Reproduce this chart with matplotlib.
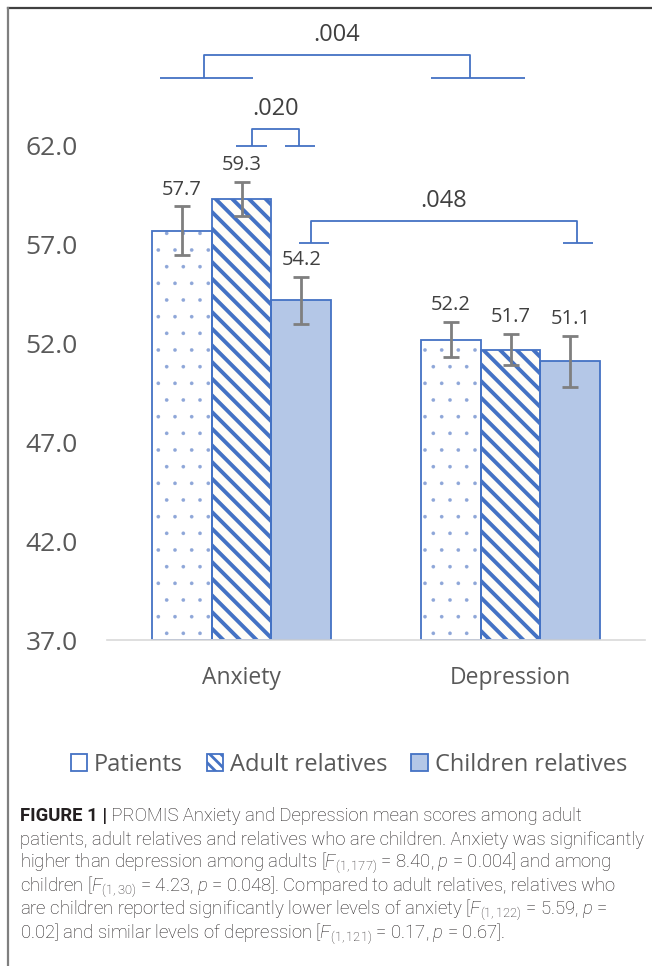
import matplotlib
matplotlib.use("Agg")
import matplotlib.pyplot as plt
from matplotlib.patches import Patch
from matplotlib.lines import Line2D
import numpy as np

# --- data -------------------------------------------------------------
categories = ["Anxiety", "Depression"]
groups = ["Patients", "Adult relatives", "Children relatives"]
patients = [57.7, 52.2]
adult_relatives = [59.3, 51.7]
children_relatives = [54.2, 51.1]
patients_err = [1.24, 0.90]
adult_err = [0.86, 0.78]
children_err = [1.19, 1.28]
yticks = [37.0, 42.0, 47.0, 52.0, 57.0, 62.0]
# significance brackets: (label, left foot, right foot, left stem, right stem, base, top)
brackets = [
    (".004", (-0.303, 0.043), (0.704, 1.054), -0.139, 0.849, 65.44, 66.6),
    (".020", (-0.020, 0.095), (0.162, 0.273), 0.039, 0.214, 62.0, 62.86),
    (".048", (0.214, 0.325), (1.195, 1.307), 0.258, 1.247, 57.09, 58.2),
]

BLUE = "#4472C4"
DOT = "#8EA6D8"
LIGHT = "#B4C7E7"
GREY_TXT = "#595959"
VAL_TXT = "#404040"

plt.rcParams["font.family"] = ["Open Sans", "DejaVu Sans"]

fig = plt.figure(figsize=(6.52, 9.66), dpi=100)
ax = fig.add_axes([107 / 652, 1 - 640 / 966, (645 - 107) / 652, (640 - 146) / 966])

x = np.arange(len(categories))
w = 0.223
# (values, errors, face colour, hatch, hatch colour, hatch line width)
series = [
    (patients, patients_err, "white", ".", DOT, 0.2),
    (adult_relatives, adult_err, "#FFFDF8", "\\\\", BLUE, 2.8),
    (children_relatives, children_err, LIGHT, None, BLUE, 1.0),
]

for i, (vals, errs, face, hatch, hcol, hlw) in enumerate(series):
    pos = x + (i - 1) * w
    heights = np.array(vals) - 37.0
    ax.bar(pos, heights, bottom=37.0, width=w, facecolor=face, edgecolor="none",
           linewidth=0, zorder=2)
    if hatch:
        plt.rcParams["hatch.linewidth"] = hlw
        ax.bar(pos, heights, bottom=37.0, width=w, facecolor="none", edgecolor=hcol,
               linewidth=0, hatch=hatch, zorder=2.1)
    ax.bar(pos, heights, bottom=37.0, width=w, facecolor="none", edgecolor=BLUE,
           linewidth=1.3, zorder=2.2)
    ax.errorbar(pos, vals, yerr=errs, fmt="none", ecolor="#7F7F7F",
                elinewidth=2.0, capsize=5.8, capthick=2.0, zorder=3)
    for p, v, e in zip(pos, vals, errs):
        ax.annotate(f"{v:.1f}", (p, v + e), xytext=(0, 5), textcoords="offset points",
                    ha="center", va="bottom", fontsize=14.5, color=VAL_TXT)

ax.set_xlim(-0.5, 1.5)
ax.set_ylim(37, 62)
ax.set_yticks(yticks)
ax.set_yticklabels([f"{t:.1f}" for t in yticks], fontsize=19, color=GREY_TXT)
ax.set_xticks(x)
ax.set_xticklabels(categories, fontsize=16.5, color=GREY_TXT)
ax.tick_params(axis="y", length=0, pad=21)
ax.tick_params(axis="x", length=0, pad=18.5)
for s in ["top", "right", "left"]:
    ax.spines[s].set_visible(False)
ax.spines["bottom"].set_color("#D9D9D9")
ax.spines["bottom"].set_linewidth(1.2)

# significance brackets
for label, (l0, l1), (r0, r1), sl, sr, base, top in brackets:
    kw = dict(color=BLUE, lw=1.3, clip_on=False, solid_capstyle="butt",
              solid_joinstyle="round", zorder=4)
    ax.plot([l0, l1], [base, base], **kw)
    ax.plot([r0, r1], [base, base], **kw)
    ax.plot([sl, sl, sr, sr], [base, top, top, base], **kw)
    ax.text((sl + sr) / 2, top + 1.0, label, ha="center", va="center",
            fontsize=17, color=VAL_TXT, clip_on=False)

# legend
plt.rcParams["hatch.linewidth"] = 2.0
handles = [
    Patch(facecolor="white", edgecolor=BLUE, linewidth=1.3),
    Patch(facecolor="white", edgecolor=BLUE, hatch="\\\\\\", linewidth=1.3),
    Patch(facecolor=LIGHT, edgecolor=BLUE, linewidth=1.3),
]
fig.legend(handles, groups, loc="center", bbox_to_anchor=(349 / 652, 1 - 765 / 966),
           ncol=3, frameon=False, fontsize=17, handlelength=0.7, handleheight=0.7,
           handletextpad=0.3, columnspacing=1.0, labelcolor=GREY_TXT)

# page frame
fig.add_artist(Line2D([8 / 652, 1], [1 - 8 / 966] * 2, transform=fig.transFigure,
                      color="#404040", lw=1.6))
fig.add_artist(Line2D([8 / 652] * 2, [0, 1 - 8 / 966], transform=fig.transFigure,
                      color="#7F7F7F", lw=1.6))

# caption
plt.rcParams["mathtext.fontset"] = "custom"
plt.rcParams["mathtext.rm"] = "Roboto:light"
plt.rcParams["mathtext.it"] = "Roboto:italic:light"
CAP_SIZE = 13.3
cap_kw = dict(fontsize=CAP_SIZE, color="#231F20", family=["Roboto", "DejaVu Sans"],
              fontweight="light")
x0 = 20 / 652
line_y = [816, 840, 863, 887, 910, 934]
bold = fig.text(x0, 1 - line_y[0] / 966, "FIGURE 1 |", fontsize=CAP_SIZE, color="#231F20",
                family=["Roboto", "DejaVu Sans"], fontweight="bold", va="center")
lines = [
    "patients, adult relatives and relatives who are children. Anxiety was significantly",
    r"higher than depression among adults [$F_{(1,177)}$ = 8.40, $p$ = 0.004] and among",
    r"children [$F_{(1,30)}$ = 4.23, $p$ = 0.048]. Compared to adult relatives, relatives who",
    r"are children reported significantly lower levels of anxiety [$F_{(1,122)}$ = 5.59, $p$ =",
    r"0.02] and similar levels of depression [$F_{(1,121)}$ = 0.17, $p$ = 0.67].",
]
ax2 = fig.add_axes([0, 0, 1, 1], frameon=False)
ax2.set_axis_off()
ax2.annotate(" PROMIS Anxiety and Depression mean scores among adult", xy=(1, 0.5),
             xycoords=bold, va="center", ha="left", **cap_kw)
for yy, txt in zip(line_y[1:], lines):
    fig.text(x0, 1 - yy / 966, txt, va="center", **cap_kw)

fig.savefig("out.png", dpi=100)
